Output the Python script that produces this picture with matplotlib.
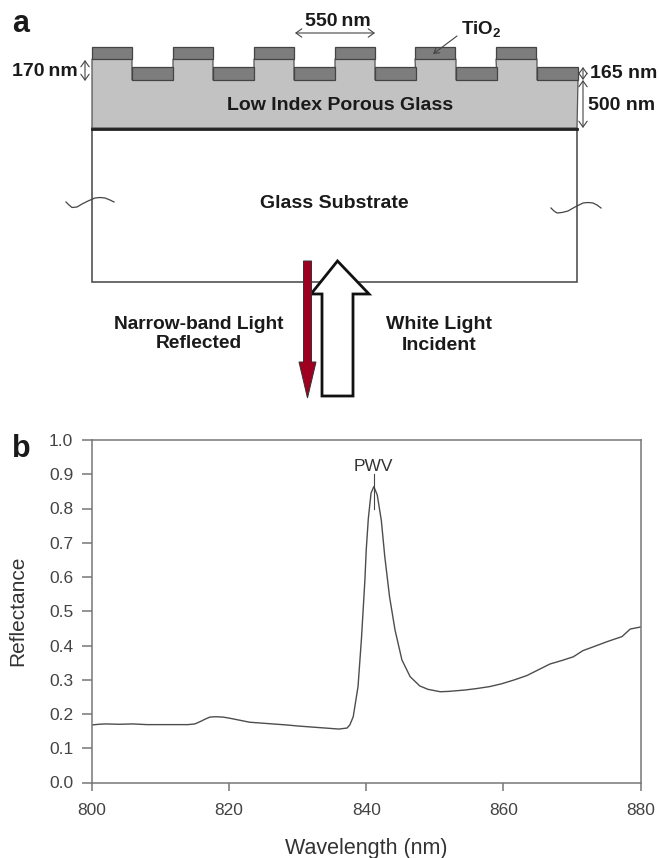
import matplotlib
matplotlib.use('Agg')
import matplotlib.pyplot as plt
from matplotlib.patches import Polygon, Rectangle, FancyArrowPatch

plt.rcParams['font.family'] = ['Liberation Sans', 'DejaVu Sans']
plt.rcParams['mathtext.fontset'] = 'custom'
plt.rcParams['mathtext.bf'] = 'Liberation Sans:bold'
plt.rcParams['mathtext.rm'] = 'Liberation Sans'

# spectrum
wavelength = [800, 801, 802, 804, 806, 808, 810, 812, 814, 815, 815.8, 816.5, 817.2, 818, 819.1, 820, 821.5, 823,
              825, 828.4, 830, 832, 834.7, 836, 837.2, 837.6, 838.1, 838.8, 839.3, 839.8, 840, 840.3, 840.7,
              841.1, 841.6, 842.2, 842.7, 843.4, 844.2, 845.2, 846.4, 847.8, 849, 850.8, 852, 854.4, 856,
              858, 859.7, 861.5, 863.4, 865, 866.8, 868.5, 870.2, 871.6, 873.5, 875.1, 877.3, 878.5, 880]
reflectance = [0.168, 0.170, 0.171, 0.170, 0.171, 0.169, 0.169, 0.169, 0.169, 0.171, 0.178, 0.185, 0.191, 0.192,
               0.191, 0.188, 0.182, 0.176, 0.173, 0.168, 0.165, 0.162, 0.158, 0.156, 0.159, 0.168, 0.192,
               0.280, 0.420, 0.590, 0.680, 0.770, 0.845, 0.864, 0.840, 0.765, 0.660, 0.542, 0.445, 0.358,
               0.309, 0.282, 0.272, 0.265, 0.266, 0.270, 0.274, 0.280, 0.288, 0.299, 0.312, 0.328, 0.346,
               0.356, 0.367, 0.385, 0.399, 0.411, 0.426, 0.448, 0.454]
x_ticks = [800, 820, 840, 860, 880]
y_ticks = [0.0, 0.1, 0.2, 0.3, 0.4, 0.5, 0.6, 0.7, 0.8, 0.9, 1.0]

# grating edges in panel a (pixels)
ridge_left = [92, 173, 254, 335, 415, 496]
trench_left = [132, 213, 294, 375, 456, 537]
ridge_width = 40
trench_width = 41

W, H = 659, 858
fig = plt.figure(figsize=(W / 100, H / 100), dpi=100)

# panel b
ax = fig.add_axes([92 / W, 1 - 782.5 / H, 548.5 / W, 342.5 / H])
ax.plot(wavelength, reflectance, color='#4d4d4d', lw=1.0)
ax.set_xlim(800, 880)
ax.set_ylim(0, 1)
ax.set_xticks(x_ticks)
ax.set_yticks(y_ticks)
ax.set_yticklabels(['%.1f' % v for v in y_ticks])
for s in ax.spines.values():
    s.set_color('#777777')
    s.set_linewidth(1.1)
ax.tick_params(axis='x', direction='out', length=6, width=1.1, color='#777777', labelcolor='#444444', labelsize=12.5, pad=9)
ax.tick_params(axis='y', direction='out', length=7, width=1.1, color='#777777', labelcolor='#444444', labelsize=12.5, pad=6.5)
ax.set_xlabel('Wavelength (nm)', fontsize=15.5, color='#333333', labelpad=14)
ax.set_ylabel('Reflectance', fontsize=15, color='#333333')
ax.yaxis.set_label_coords(-0.118, 0.5, transform=ax.transAxes)
ax.plot([841.1, 841.1], [0.80, 0.90], color='#444444', lw=0.8)
ax.text(841.0, 0.90, 'PWV', ha='center', va='bottom', fontsize=12.5, color='#333333')

# panel a, drawn in pixel coordinates
ov = fig.add_axes([0, 0, 1, 1], zorder=5)
ov.set_xlim(0, W)
ov.set_ylim(H, 0)
ov.axis('off')

ov.add_patch(Rectangle((92, 128), 485, 154, fc='white', ec='#444444', lw=1.1))
outline = [(92, 128)]
for r, t in zip(ridge_left, trench_left):
    outline += [(r, 59), (t, 59), (t, 80), (t + trench_width, 80)]
outline.append((577, 128))
ov.add_patch(Polygon(outline, closed=True, fc='#c2c2c2', ec='#555555', lw=0.9))
for r in ridge_left:
    ov.add_patch(Rectangle((r, 46.5), ridge_width, 12.5, fc='#7d7d7d', ec='#444444', lw=0.9))
for t in trench_left:
    ov.add_patch(Rectangle((t, 67), trench_width, 13, fc='#7d7d7d', ec='#444444', lw=0.9))
ov.plot([92, 577], [128.5, 128.5], color='#222222', lw=2)

# wavy break marks
ov.plot([66, 69, 72, 77, 82, 88, 95, 100, 105, 110, 114],
        [202, 205, 207.5, 207, 204, 201, 198, 197.5, 198, 200, 202], color='#444444', lw=0.9)
ov.plot([551, 554, 557, 562, 568, 575, 583, 588, 593, 597, 601],
        [208, 211, 213, 212.5, 211, 207, 203, 202.5, 203, 205, 208], color='#444444', lw=0.9)


def dim(x0, y0, x1, y1):
    ov.add_patch(FancyArrowPatch((x0, y0), (x1, y1), arrowstyle='<->,head_length=0.35,head_width=0.25',
                                 mutation_scale=12, lw=0.8, color='#444444', shrinkA=0, shrinkB=0))


dim(85, 60, 85, 81)
dim(295, 33, 375, 33)
dim(583, 67, 583, 80)
dim(583, 80, 583, 128)
ov.add_patch(FancyArrowPatch((457, 36), (433, 54), arrowstyle='->,head_length=0.3,head_width=0.18',
                             mutation_scale=12, lw=0.8, color='#444444', shrinkA=0, shrinkB=0))

# arrows
ov.add_patch(Polygon([(337.5, 261), (369, 294), (353, 294), (353, 396), (322, 396), (322, 294), (311, 294)],
                     closed=True, fc='white', ec='#111111', lw=2, zorder=3))
ov.add_patch(Polygon([(303.5, 261), (311.5, 261), (311.5, 362), (316, 362), (307.5, 398), (299, 362), (303.5, 362)],
                     closed=True, fc='#a00020', ec='#333333', lw=0.7, zorder=4))

bold = dict(fontweight='bold', color='#1a1a1a')
ov.text(12, 24, 'a', fontsize=22, ha='left', va='center', **bold)
ov.text(12, 449, 'b', fontsize=22, ha='left', va='center', **bold)
ov.text(12, 71, '170\u2009nm', fontsize=14, ha='left', va='center', **bold)
ov.text(338, 22, '550\u2009nm', fontsize=14, ha='center', va='center', **bold)
ov.text(461, 30, 'TiO$_\\mathbf{2}$', fontsize=13.5, ha='left', va='center', **bold)
ov.text(590, 74, '165 nm', fontsize=14, ha='left', va='center', **bold)
ov.text(588, 105, '500 nm', fontsize=14, ha='left', va='center', **bold)
ov.text(340, 105, 'Low Index Porous Glass', fontsize=14, ha='center', va='center', **bold)
ov.text(334, 204, 'Glass Substrate', fontsize=14, ha='center', va='center', **bold)
ov.text(199, 334, 'Narrow-band Light\nReflected', fontsize=13.8, ha='center', va='center', linespacing=1.15, **bold)
ov.text(439, 335, 'White Light\nIncident', fontsize=14, ha='center', va='center', linespacing=1.25, **bold)

fig.savefig('out.png', dpi=100)
